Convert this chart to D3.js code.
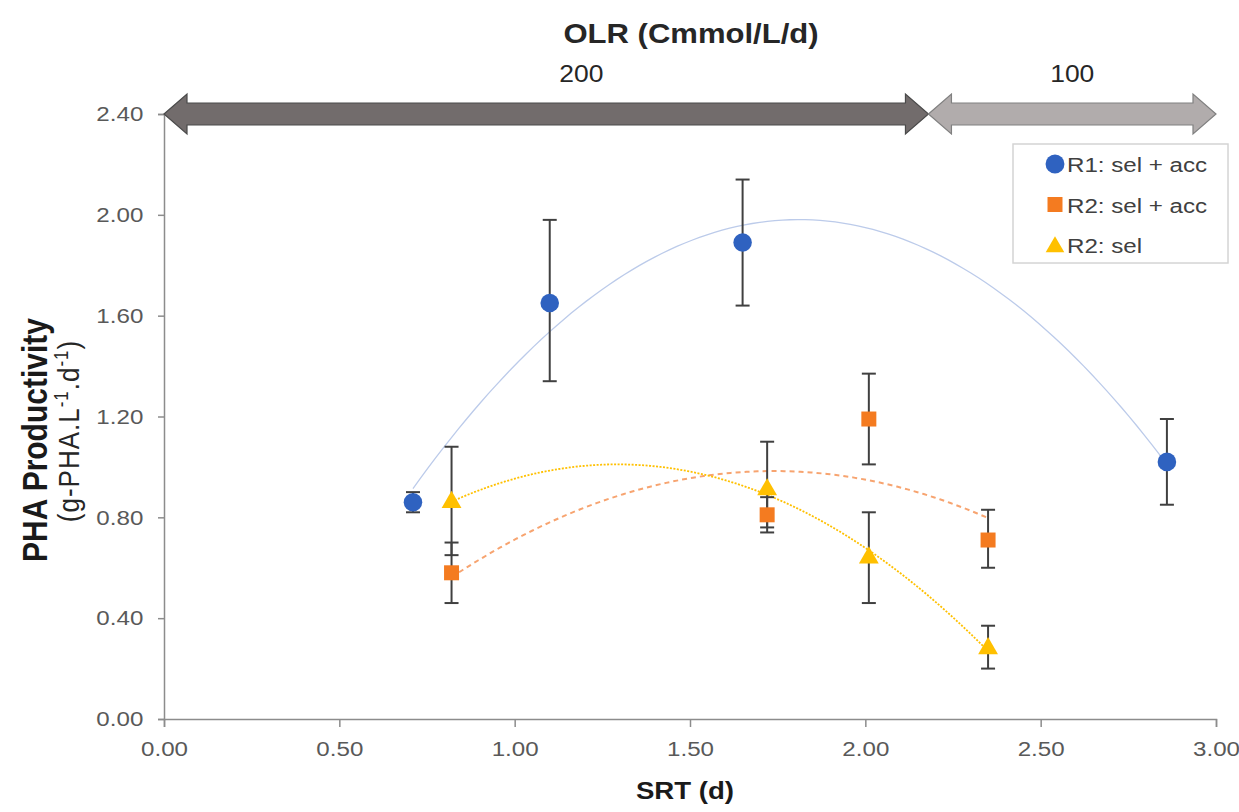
<!DOCTYPE html>
<html>
<head>
<meta charset="utf-8">
<script src="https://cdn.jsdelivr.net/npm/d3@7"></script>
<style>
  body { margin: 0; background: #fff; }
  text { font-family: "Liberation Sans", Arial, sans-serif; }
</style>
</head>
<body>
<div id="chart"></div>
<script>
// data
const srtR1 = [0.71, 1.10, 1.65, 2.86];
const phaR1 = [0.86, 1.65, 1.89, 1.02];
const errLoR1 = [0.82, 1.34, 1.64, 0.85];
const errHiR1 = [0.90, 1.98, 2.14, 1.19];

const srtR2acc = [0.82, 1.72, 2.01, 2.35];
const phaR2acc = [0.58, 0.81, 1.19, 0.71];
const errLoR2acc = [0.46, 0.74, 1.01, 0.60];
const errHiR2acc = [0.70, 0.88, 1.37, 0.83];

const srtR2sel = [0.82, 1.72, 2.01, 2.35];
const phaR2sel = [0.86, 0.91, 0.64, 0.28];
const errLoR2sel = [0.65, 0.76, 0.46, 0.20];
const errHiR2sel = [1.08, 1.10, 0.82, 0.37];

const xTicks = [0, 0.5, 1, 1.5, 2, 2.5, 3];
const yTicks = [0, 0.4, 0.8, 1.2, 1.6, 2.0, 2.4];

const olrLabels = ["200", "100"];
const olrStart = [0, 2.18];
const olrEnd = [2.18, 3.0];
const olrLabelX = [1.19, 2.59];

const seriesNames = ["R1: sel + acc", "R2: sel + acc", "R2: sel"];

let width = 1239, height = 812;
let margin = {left: 164, right: 23, top: 114, bottom: 93};
// the original picture is a bit wider than tall, so text gets a horizontal stretch
let stretch = 1.15;

let svg = d3.select("#chart").append("svg")
  .attr("width", width).attr("height", height);

let x = d3.scaleLinear().domain([0, 3]).range([margin.left, width - margin.right]);
let y = d3.scaleLinear().domain([0, 2.4]).range([height - margin.bottom, margin.top]);

function addText(px, py, str, size, bold, fill) {
  return svg.append("text")
    .attr("transform", "translate(" + px + "," + py + ") scale(" + stretch + ",1)")
    .attr("text-anchor", "middle")
    .style("font-size", size + "px")
    .style("font-weight", bold ? "bold" : "normal")
    .attr("fill", fill)
    .text(str);
}

// axes
let xAxis = svg.append("g")
  .attr("transform", "translate(0," + y(0) + ")")
  .call(d3.axisBottom(x).tickValues(xTicks).tickFormat(d3.format(".2f")).tickSize(8).tickPadding(14));
let yAxis = svg.append("g")
  .attr("transform", "translate(" + x(0) + ",0)")
  .call(d3.axisLeft(y).tickValues(yTicks).tickFormat(d3.format(".2f")).tickSize(6).tickPadding(12));

[xAxis, yAxis].forEach(function(a) {
  a.selectAll("path, line").attr("stroke", "#8c8c8c").attr("stroke-width", 1.5);
  a.selectAll("text").attr("fill", "#595959").style("font-size", "21px")
    .style("font-family", "'Liberation Sans', Arial, sans-serif")
    .attr("transform", "scale(" + stretch + ",1)");
});

// OLR arrows on top
let arrowFill = ["#726c6c", "#b1acac"];
let arrowStroke = ["#4a4a4a", "#808080"];
let yc = y(2.4), hh = 20, bh = 11, hl = 23;
olrLabels.forEach(function(lbl, i) {
  let x0 = x(olrStart[i]), x1 = x(olrEnd[i]);
  let pts = [[x0, yc], [x0 + hl, yc - hh], [x0 + hl, yc - bh], [x1 - hl, yc - bh], [x1 - hl, yc - hh],
    [x1, yc], [x1 - hl, yc + hh], [x1 - hl, yc + bh], [x0 + hl, yc + bh], [x0 + hl, yc + hh]];
  svg.append("polygon")
    .attr("points", pts.map(function(p) { return p.join(","); }).join(" "))
    .attr("fill", arrowFill[i])
    .attr("stroke", arrowStroke[i])
    .attr("stroke-width", 1.2);
  addText(x(olrLabelX[i]), 82, lbl, 23, false, "#262626");
});

addText(691, 43, "OLR (Cmmol/L/d)", 27, true, "#262626");

// axis titles
addText(685, 799, "SRT (d)", 24, true, "#1a1a1a");

let yTitle = svg.append("g").attr("transform", "translate(0,440) scale(" + stretch + ",1) rotate(-90)");
yTitle.append("text")
  .attr("y", 41)
  .attr("text-anchor", "middle")
  .style("font-size", "30px").style("font-weight", "bold").attr("fill", "#1a1a1a")
  .text("PHA Productivity");
let sub = yTitle.append("text")
  .attr("x", 9).attr("y", 69)
  .attr("text-anchor", "middle")
  .style("font-size", "26px").style("letter-spacing", "1px").attr("fill", "#262626");
sub.append("tspan").text("(g-PHA.L");
sub.append("tspan").attr("dy", -10).style("font-size", "17px").text("-1");
sub.append("tspan").attr("dy", 10).text(".d");
sub.append("tspan").attr("dy", -10).style("font-size", "17px").text("-1");
sub.append("tspan").attr("dy", 10).text(")");

// quadratic least squares trend (like Excel's poly order 2)
function polyFit(xs, ys) {
  let s = [0, 0, 0, 0, 0], t = [0, 0, 0];
  for (let i = 0; i < xs.length; i++) {
    for (let k = 0; k < 5; k++) s[k] += Math.pow(xs[i], k);
    for (let k = 0; k < 3; k++) t[k] += ys[i] * Math.pow(xs[i], k);
  }
  let A = [[s[0], s[1], s[2], t[0]], [s[1], s[2], s[3], t[1]], [s[2], s[3], s[4], t[2]]];
  for (let c = 0; c < 3; c++) {
    for (let r = c + 1; r < 3; r++) {
      let f = A[r][c] / A[c][c];
      for (let k = c; k < 4; k++) A[r][k] -= f * A[c][k];
    }
  }
  let b = [0, 0, 0];
  for (let r = 2; r >= 0; r--) {
    let v = A[r][3];
    for (let k = r + 1; k < 3; k++) v -= A[r][k] * b[k];
    b[r] = v / A[r][r];
  }
  return function(v) { return b[0] + b[1] * v + b[2] * v * v; };
}

let series = [
  {name: seriesNames[0], xs: srtR1, ys: phaR1, lo: errLoR1, hi: errHiR1, color: "#2f62c0",
   line: "#bccbea", dash: null, lw: 1.3, symbol: d3.symbolCircle, size: 270},
  {name: seriesNames[1], xs: srtR2acc, ys: phaR2acc, lo: errLoR2acc, hi: errHiR2acc, color: "#f47b20",
   line: "#f7a470", dash: "5,4", lw: 2, symbol: d3.symbolSquare, size: 225},
  {name: seriesNames[2], xs: srtR2sel, ys: phaR2sel, lo: errLoR2sel, hi: errHiR2sel, color: "#ffc000",
   line: "#ffc000", dash: "2,1.5", lw: 1.8, symbol: d3.symbolTriangle, size: 170}
];

let line = d3.line().x(function(d) { return x(d[0]); }).y(function(d) { return y(d[1]); });

series.forEach(function(s) {
  let f = polyFit(s.xs, s.ys);
  let lo = d3.min(s.xs), hi = d3.max(s.xs);
  let pts = d3.range(0, 101).map(function(i) { let v = lo + (hi - lo) * i / 100; return [v, f(v)]; });
  svg.append("path")
    .attr("d", line(pts))
    .attr("fill", "none")
    .attr("stroke", s.line)
    .attr("stroke-width", s.lw)
    .attr("stroke-dasharray", s.dash);
});

// error bars
series.forEach(function(s) {
  let g = svg.append("g").attr("stroke", "#404040").attr("stroke-width", 2);
  s.xs.forEach(function(v, i) {
    g.append("line").attr("x1", x(v)).attr("x2", x(v)).attr("y1", y(s.lo[i])).attr("y2", y(s.hi[i]));
    [s.lo[i], s.hi[i]].forEach(function(e) {
      g.append("line").attr("x1", x(v) - 7).attr("x2", x(v) + 7).attr("y1", y(e)).attr("y2", y(e));
    });
  });
});

// markers
series.forEach(function(s) {
  svg.append("g").selectAll("path")
    .data(s.xs.map(function(v, i) { return [v, s.ys[i]]; }))
    .enter().append("path")
    .attr("d", d3.symbol().type(s.symbol).size(s.size))
    .attr("transform", function(d) { return "translate(" + x(d[0]) + "," + y(d[1]) + ")"; })
    .attr("fill", s.color);
});

// legend
let legend = svg.append("g").attr("transform", "translate(1013,144)");
legend.append("rect")
  .attr("width", 215).attr("height", 119)
  .attr("fill", "#fff").attr("stroke", "#d4d4d4").attr("stroke-width", 1.5);
series.forEach(function(s, i) {
  let row = legend.append("g").attr("transform", "translate(0," + (20 + i * 40.5) + ")");
  row.append("path")
    .attr("d", d3.symbol().type(s.symbol).size(i == 0 ? 280 : i == 1 ? 225 : 150))
    .attr("transform", "translate(42," + (i == 2 ? 2 : 0) + ")")
    .attr("fill", s.color);
  row.append("text")
    .attr("transform", "translate(54,8) scale(" + stretch + ",1)")
    .style("font-size", "21px").attr("fill", "#404040")
    .text(s.name);
});
</script>
</body>
</html>
